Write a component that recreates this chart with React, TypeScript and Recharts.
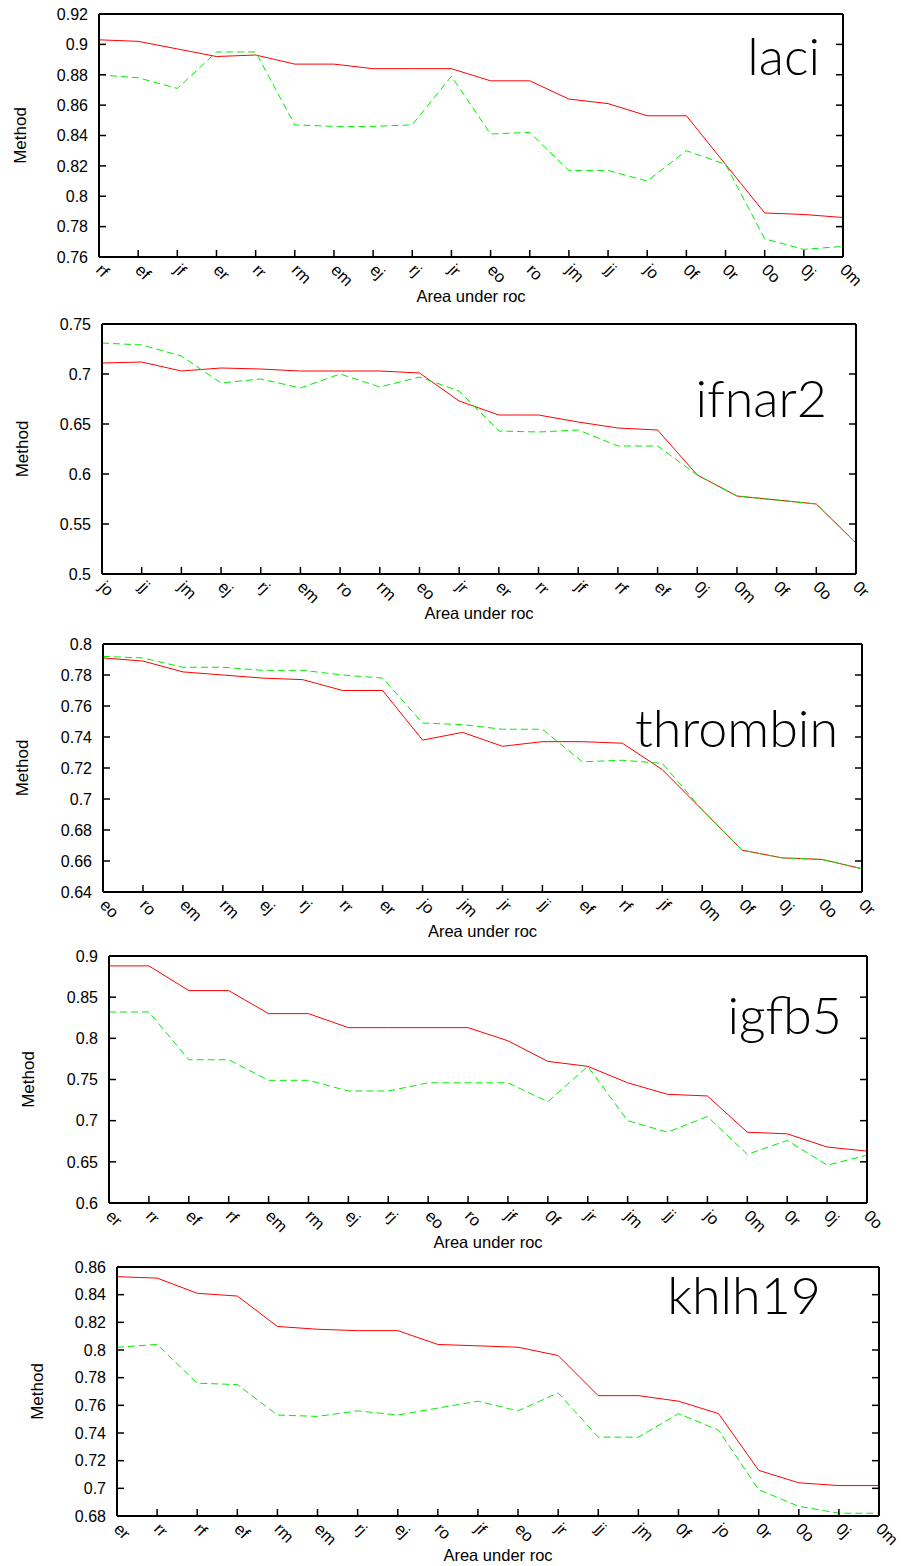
import { LineChart, Line, XAxis, YAxis, Customized } from "recharts";

const FONT = '"Liberation Sans", Arial, Helvetica, sans-serif';
const TITLE_FONT = 'Lato, "Open Sans", sans-serif';
const RED = "#ff0000";
const GREEN = "#00ee00";

// ---- laci ----
const laciCats = ["rf", "ef", "jf", "er", "rr", "rm", "em", "ej", "rj", "jr", "eo", "ro", "jm", "jj", "jo", "0f", "0r", "0o", "0j", "0m"];
const laciRed = [0.903, 0.902, 0.897, 0.892, 0.893, 0.887, 0.887, 0.884, 0.884, 0.884, 0.876, 0.876, 0.864, 0.861, 0.853, 0.853, 0.821, 0.789, 0.788, 0.786];
const laciGreen = [0.88, 0.878, 0.871, 0.895, 0.895, 0.847, 0.846, 0.846, 0.847, 0.879, 0.841, 0.842, 0.817, 0.817, 0.81, 0.83, 0.821, 0.772, 0.765, 0.767];
const laciTicks = [0.76, 0.78, 0.8, 0.82, 0.84, 0.86, 0.88, 0.9, 0.92];

// ---- ifnar2 ----
const ifnarCats = ["jo", "jj", "jm", "ej", "rj", "em", "ro", "rm", "eo", "jr", "er", "rr", "jf", "rf", "ef", "0j", "0m", "0f", "0o", "0r"];
const ifnarRed = [0.711, 0.712, 0.703, 0.706, 0.705, 0.703, 0.703, 0.703, 0.701, 0.673, 0.659, 0.659, 0.652, 0.646, 0.644, 0.599, 0.578, 0.574, 0.57, 0.531];
const ifnarGreen = [0.731, 0.729, 0.718, 0.691, 0.695, 0.686, 0.7, 0.687, 0.697, 0.683, 0.643, 0.642, 0.644, 0.628, 0.628, 0.599, 0.578, 0.574, 0.57, 0.531];
const ifnarTicks = [0.5, 0.55, 0.6, 0.65, 0.7, 0.75];

// ---- thrombin ----
const thrombinCats = ["eo", "ro", "em", "rm", "ej", "rj", "rr", "er", "jo", "jm", "jr", "jj", "ef", "rf", "jf", "0m", "0f", "0j", "0o", "0r"];
const thrombinRed = [0.791, 0.789, 0.782, 0.78, 0.778, 0.777, 0.77, 0.77, 0.738, 0.743, 0.734, 0.737, 0.737, 0.736, 0.719, 0.693, 0.667, 0.662, 0.661, 0.655];
const thrombinGreen = [0.792, 0.791, 0.785, 0.785, 0.783, 0.783, 0.78, 0.778, 0.749, 0.748, 0.745, 0.745, 0.724, 0.725, 0.723, 0.693, 0.667, 0.662, 0.661, 0.655];
const thrombinTicks = [0.64, 0.66, 0.68, 0.7, 0.72, 0.74, 0.76, 0.78, 0.8];

// ---- igfb5 ----
const igfbCats = ["er", "rr", "ef", "rf", "em", "rm", "ej", "rj", "eo", "ro", "jf", "0f", "jr", "jm", "jj", "jo", "0m", "0r", "0j", "0o"];
const igfbRed = [0.888, 0.888, 0.858, 0.858, 0.83, 0.83, 0.813, 0.813, 0.813, 0.813, 0.797, 0.772, 0.766, 0.746, 0.732, 0.73, 0.686, 0.684, 0.668, 0.663];
const igfbGreen = [0.832, 0.832, 0.774, 0.774, 0.749, 0.749, 0.736, 0.736, 0.746, 0.746, 0.746, 0.723, 0.766, 0.7, 0.686, 0.705, 0.659, 0.676, 0.646, 0.658];
const igfbTicks = [0.6, 0.65, 0.7, 0.75, 0.8, 0.85, 0.9];

// ---- khlh19 ----
const khlhCats = ["er", "rr", "rf", "ef", "rm", "em", "rj", "ej", "ro", "jf", "eo", "jr", "jj", "jm", "0f", "jo", "0r", "0o", "0j", "0m"];
const khlhRed = [0.853, 0.852, 0.841, 0.839, 0.817, 0.815, 0.814, 0.814, 0.804, 0.803, 0.802, 0.796, 0.767, 0.767, 0.763, 0.754, 0.713, 0.704, 0.702, 0.702];
const khlhGreen = [0.802, 0.804, 0.776, 0.775, 0.753, 0.752, 0.756, 0.753, 0.758, 0.763, 0.756, 0.769, 0.737, 0.737, 0.754, 0.742, 0.699, 0.687, 0.682, 0.682];
const khlhTicks = [0.68, 0.7, 0.72, 0.74, 0.76, 0.78, 0.8, 0.82, 0.84, 0.86];

const fmt = (v: number) => String(Number(v.toFixed(2)));

const rows = (cats: string[], red: number[], green: number[]) =>
  cats.map((c, i) => ({ cat: c, red: red[i], green: green[i] }));

const panels = [
  { title: "laci", data: rows(laciCats, laciRed, laciGreen), ticks: laciTicks, top: 0, height: 310, box: { l: 99, r: 843, t: 14, b: 257 }, titleX: 820, titleY: 75, methodX: 26 },
  { title: "ifnar2", data: rows(ifnarCats, ifnarRed, ifnarGreen), ticks: ifnarTicks, top: 310, height: 320, box: { l: 102, r: 856, t: 324, b: 574 }, titleX: 827, titleY: 417, methodX: 28 },
  { title: "thrombin", data: rows(thrombinCats, thrombinRed, thrombinGreen), ticks: thrombinTicks, top: 630, height: 310, box: { l: 103, r: 862, t: 644, b: 892 }, titleX: 838, titleY: 747, methodX: 28 },
  { title: "igfb5", data: rows(igfbCats, igfbRed, igfbGreen), ticks: igfbTicks, top: 940, height: 310, box: { l: 109, r: 867, t: 956, b: 1203 }, titleX: 842, titleY: 1034, methodX: 34 },
  { title: "khlh19", data: rows(khlhCats, khlhRed, khlhGreen), ticks: khlhTicks, top: 1250, height: 316, box: { l: 117, r: 879, t: 1267, b: 1516 }, titleX: 821, titleY: 1314, methodX: 43 },
];

const AX = { stroke: "#000", strokeWidth: 2 };

const LeftTick = ({ x, y, payload }: any) => (
  <g>
    <line x1={x} x2={x + 7} y1={y} y2={y} stroke="#000" strokeWidth={1.5} />
    <text x={x - 11} y={y} dy="0.36em" textAnchor="end" fontSize={16} fontFamily={FONT} fill="#000">
      {fmt(payload.value)}
    </text>
  </g>
);

const RightTick = ({ x, y }: any) => (
  <line x1={x} x2={x - 7} y1={y} y2={y} stroke="#000" strokeWidth={1.5} />
);

const BottomTick = ({ x, y, payload }: any) => (
  <g>
    <line x1={x} x2={x} y1={y} y2={y - 7} stroke="#000" strokeWidth={1.5} />
    <text
      transform={`translate(${x - 4},${y + 14}) rotate(45)`}
      fontSize={16.5}
      fontFamily={FONT}
      fill="#000"
    >
      {payload.value}
    </text>
  </g>
);

function Panel({ p }: { p: (typeof panels)[number] }) {
  const W = 901;
  const { l, r, t, b } = p.box;
  const plotMidY = (t + b) / 2 - p.top;
  const plotMidX = (l + r) / 2;
  const domain = [p.ticks[0], p.ticks[p.ticks.length - 1]];
  return (
    <div style={{ position: "absolute", left: 0, top: p.top, width: W, height: p.height }}>
      <LineChart
        width={W}
        height={p.height}
        data={p.data}
        margin={{ top: t - p.top - 1, left: l - 1, right: W - r - 1, bottom: p.height - (b - p.top) - 1 }}
      >
        <XAxis dataKey="cat" scale="point" interval={0} height={1} tickSize={0} tickMargin={0}
          axisLine={AX} tickLine={false} tick={<BottomTick />} />
        <XAxis xAxisId="top" orientation="top" dataKey="cat" scale="point" height={1} tick={false}
          tickLine={false} axisLine={AX} />
        <YAxis yAxisId="l" type="number" domain={domain} ticks={p.ticks} interval={0} width={1}
          tickSize={0} tickMargin={0} allowDataOverflow axisLine={AX} tickLine={false} tick={<LeftTick />} />
        <YAxis yAxisId="r" orientation="right" type="number" domain={domain} ticks={p.ticks} interval={0}
          width={1} tickSize={0} tickMargin={0} allowDataOverflow axisLine={AX} tickLine={false} tick={<RightTick />} />
        <Line yAxisId="l" dataKey="red" stroke={RED} strokeWidth={1} dot={false} isAnimationActive={false} />
        <Line yAxisId="l" dataKey="green" stroke={GREEN} strokeWidth={1} strokeDasharray="7 4" dot={false} isAnimationActive={false} />
        <Customized
          component={
            <g>
              <text x={p.titleX} y={p.titleY - p.top} textAnchor="end" fontSize={52} fontWeight={300}
                fontFamily={TITLE_FONT} fill="#000">
                {p.title}
              </text>
              <text transform={`translate(${p.methodX},${plotMidY}) rotate(-90)`} textAnchor="middle"
                fontSize={17} fontFamily={FONT} fill="#000">
                Method
              </text>
              <text x={plotMidX} y={b - p.top + 45} textAnchor="middle" fontSize={16.5} fontFamily={FONT} fill="#000">
                Area under roc
              </text>
            </g>
          }
        />
      </LineChart>
    </div>
  );
}

export default function App() {
  return (
    <div style={{ position: "absolute", left: 0, top: 0, width: 901, height: 1566, background: "#fff" }}>
      {panels.map((p) => (
        <Panel key={p.title} p={p} />
      ))}
    </div>
  );
}
